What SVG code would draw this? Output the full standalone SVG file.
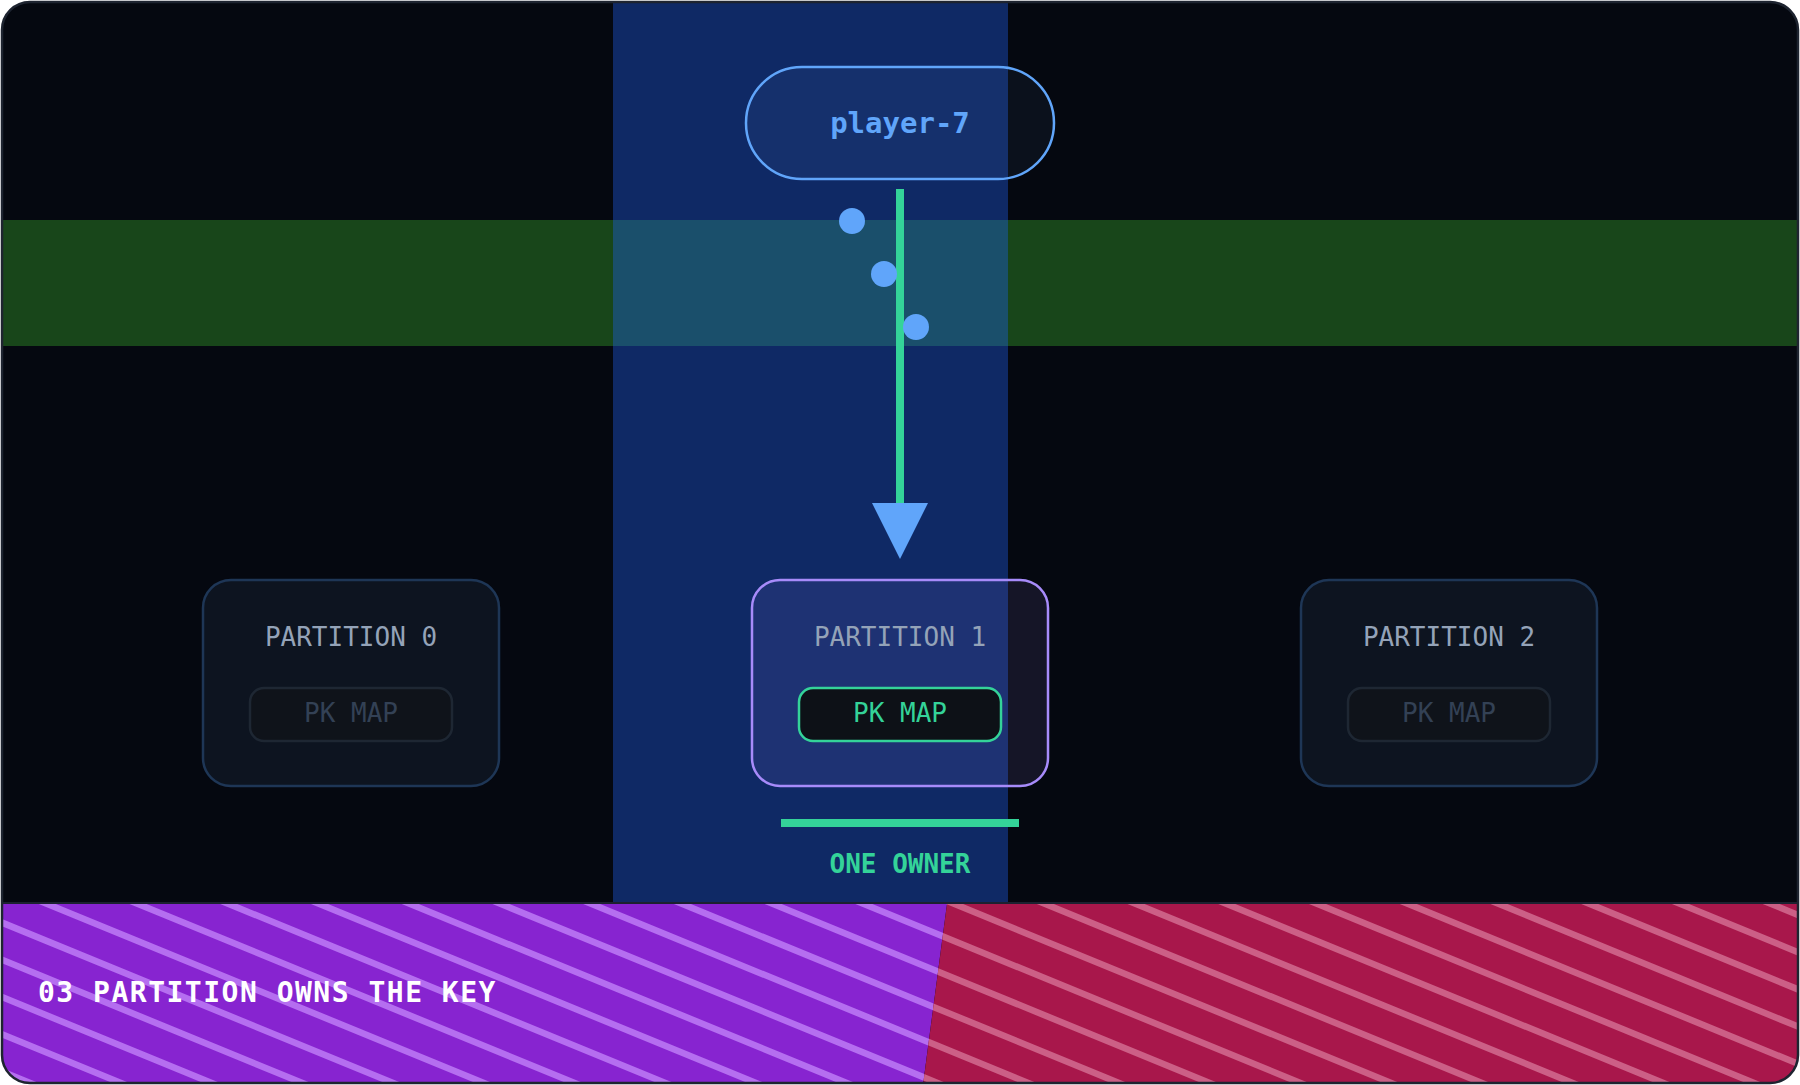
<svg xmlns="http://www.w3.org/2000/svg" width="1800" height="1085" viewBox="0 0 1800 1085">
<style>
.mono{font-family:"DejaVu Sans Mono","Liberation Mono",monospace;text-anchor:middle}
.ptitle{font-size:26px;fill:#94a3b8}
.pk{font-size:26px}
.box{fill:#0d1420;stroke:#1e3656;stroke-width:2.5}
.pkbox{fill:#0f131a;stroke:#1e2733;stroke-width:2.5}
.dot{fill:#60a5fa}
.stripes{fill:none;stroke-width:6.5}
</style>
<defs>
<clipPath id="frameClip"><rect x="2" y="2" width="1796" height="1081" rx="28"/></clipPath>
<clipPath id="leftClip"><polygon points="0,904 947,904 923,1085 0,1085"/></clipPath>
<clipPath id="rightClip"><polygon points="947,904 1800,904 1800,1085 923,1085"/></clipPath>
<path id="stripePath" d="M0,177.8 l1800,738 M0,215 l1800,738 M0,252.2 l1800,738 M0,289.4 l1800,738 M0,326.6 l1800,738 M0,363.8 l1800,738 M0,401 l1800,738 M0,438.2 l1800,738 M0,475.4 l1800,738 M0,512.6 l1800,738 M0,549.8 l1800,738 M0,587 l1800,738 M0,624.2 l1800,738 M0,661.4 l1800,738 M0,698.6 l1800,738 M0,735.8 l1800,738 M0,773 l1800,738 M0,810.2 l1800,738 M0,847.4 l1800,738 M0,884.6 l1800,738 M0,921.8 l1800,738 M0,959 l1800,738 M0,996.2 l1800,738 M0,1033.4 l1800,738 M0,1070.6 l1800,738"/>
</defs>
<g clip-path="url(#frameClip)">
<rect x="0" y="0" width="1800" height="1085" fill="#050810"/>
<rect x="0" y="220" width="1800" height="126" fill="#18461a"/>
<rect x="613" y="0" width="395" height="903" fill="#1e5ce6" fill-opacity="0.4"/>
<g clip-path="url(#leftClip)">
<rect x="0" y="904" width="960" height="181" fill="#8724d0"/>
<use href="#stripePath" class="stripes" stroke="#b56ef0"/>
</g>
<g clip-path="url(#rightClip)">
<rect x="900" y="904" width="900" height="181" fill="#a8174b"/>
<use href="#stripePath" class="stripes" stroke="#cc5f86"/>
</g>
<line x1="0" y1="903" x2="1800" y2="903" stroke="#1c2130" stroke-width="2"/>
</g>
<rect x="2" y="2" width="1796" height="1081" rx="28" fill="none" stroke="#1e2430" stroke-width="2.5"/>

<g id="key-player-7">
<rect x="746" y="67" width="308" height="112" rx="56" fill="#7aafd8" fill-opacity="0.06" stroke="#60a5fa" stroke-width="2.5"/>
<text x="900" y="133" class="mono" font-size="29" font-weight="bold" fill="#60a5fa">player-7</text>
</g>

<g id="connectors">
<line x1="900" y1="189" x2="900" y2="505" stroke="#34d399" stroke-width="8"/>
<polygon points="872,503 928,503 900,559" fill="#60a5fa"/>
<circle class="dot" cx="852" cy="221" r="13"/>
<circle class="dot" cx="884" cy="274" r="13"/>
<circle class="dot" cx="916" cy="327" r="13"/>
</g>

<g id="partition-0">
<rect class="box" x="203" y="580" width="296" height="206" rx="28"/>
<text x="351" y="646" class="mono ptitle">PARTITION 0</text>
<rect class="pkbox" x="250" y="688" width="202" height="53" rx="14"/>
<text x="351" y="722" class="mono pk" fill="#334155">PK MAP</text>
</g>

<g id="partition-1">
<rect x="752" y="580" width="296" height="206" rx="28" fill="#a78bfa" fill-opacity="0.1" stroke="#a78bfa" stroke-width="2.5"/>
<text x="900" y="646" class="mono ptitle">PARTITION 1</text>
<rect x="799" y="688" width="202" height="53" rx="14" fill="#0d1117" stroke="#34d399" stroke-width="2.5"/>
<text x="900" y="722" class="mono pk" fill="#34d399">PK MAP</text>
</g>

<g id="partition-2">
<rect class="box" x="1301" y="580" width="296" height="206" rx="28"/>
<text x="1449" y="646" class="mono ptitle">PARTITION 2</text>
<rect class="pkbox" x="1348" y="688" width="202" height="53" rx="14"/>
<text x="1449" y="722" class="mono pk" fill="#334155">PK MAP</text>
</g>

<g id="owner">
<rect x="781" y="819" width="238" height="8" fill="#34d399"/>
<text x="900" y="873" class="mono" font-size="26" font-weight="bold" fill="#34d399">ONE OWNER</text>
</g>

<g id="caption">
<text x="38" y="1002" font-family="DejaVu Sans Mono, Liberation Mono, monospace" font-size="28" font-weight="bold" letter-spacing="1.5" fill="#ffffff">03 PARTITION OWNS THE KEY</text>
</g>
</svg>
